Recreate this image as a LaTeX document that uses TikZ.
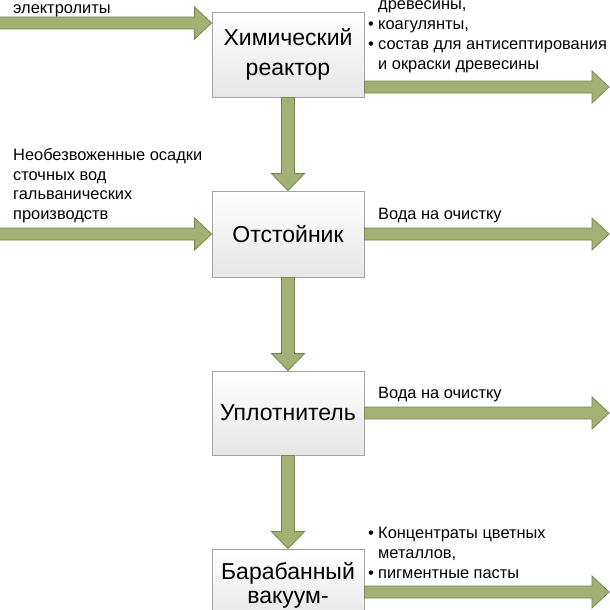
\documentclass[tikz,border=0pt]{standalone}
\usepackage{fontspec}
\setmainfont{Liberation Sans}
\usetikzlibrary{calc,shadows}
\definecolor{arrfill}{RGB}{163,178,116}
\definecolor{arrline}{RGB}{120,134,80}
\definecolor{boxline}{RGB}{165,165,165}
\definecolor{boxbot}{RGB}{230,230,230}
\tikzset{
  procbox/.style={draw=boxline, line width=0.8pt, top color=white, bottom color=boxbot,
    minimum width=152pt, inner sep=0pt, align=center,
    font=\fontsize{23}{29.3}\selectfont,
    drop shadow={shadow xshift=1.2pt, shadow yshift=-1.2pt, opacity=0.25, fill=black}},
  arrbody/.style={fill=arrfill, draw=arrline, line width=0.8pt, line join=miter},
  lbl/.style={anchor=base west, inner sep=0pt, font=\fontsize{16.4}{19.6}\selectfont}
}
\newcommand\rarr[2]{%
  \path[arrbody] let \p1=#1, \p2=#2 in
   (\x1,{\y1+6pt}) -- ({\x2-17pt},{\y1+6pt}) -- ({\x2-17pt},{\y1+16pt}) -- (\x2,\y1)
   -- ({\x2-17pt},{\y1-16pt}) -- ({\x2-17pt},{\y1-6pt}) -- (\x1,{\y1-6pt}) -- cycle;}
\newcommand\darr[2]{%
  \path[arrbody] let \p1=#1, \p2=#2 in
   ({\x1-6.5pt},\y1) -- ({\x1-6.5pt},{\y2+17pt}) -- ({\x1-16.5pt},{\y2+17pt}) -- (\x1,\y2)
   -- ({\x1+16.5pt},{\y2+17pt}) -- ({\x1+6.5pt},{\y2+17pt}) -- ({\x1+6.5pt},\y1) -- cycle;}
\newcommand\bul{\makebox[10pt][l]{•}}
\begin{document}
\begin{tikzpicture}[x=1pt,y=-1pt]
\useasboundingbox (0,0) rectangle (610,610);
\fill[white] (0,0) rectangle (610,610);
% boxes
\node[procbox, minimum height=85pt] (b1) at (288,54.5) {Химический\\реактор};
\node[procbox, minimum height=86pt] (b2) at (288,234) {Отстойник};
\node[procbox, minimum height=84pt] (b3) at (288,413) {Уплотнитель};
\node[procbox, minimum height=73pt, font=\fontsize{23}{23.4}\selectfont] (b4) at (288,585.5) {Барабанный\\вакуум-};
% free ends
\coordinate (in1) at (-5,23);
\coordinate (in2) at (-5,234);
\coordinate (o1) at (609,87);
\coordinate (o2) at (609,234);
\coordinate (o3) at (609,413);
\coordinate (o4) at (609,592);
% arrows
\rarr{(in1)}{(in1 -| b1.west)}
\rarr{(in2)}{(b2.west)}
\rarr{(o1 -| b1.east)}{(o1)}
\rarr{(b2.east)}{(o2)}
\rarr{(b3.east)}{(o3)}
\rarr{(o4 -| b4.east)}{(o4)}
\darr{(b1.south)}{(b2.north)}
\darr{(b2.south)}{(b3.north)}
\darr{(b3.south)}{(b4.north)}
% labels
\node[lbl] (t1) at (13,13.3) {электролиты};
\node[lbl] (t2) at (13,160.7) {Необезвоженные осадки};
\node[lbl] (t3) at (13,180) {сточных вод};
\node[lbl] (t4) at (13,199.3) {гальванических};
\node[lbl] (t5) at (13,219) {производств};
\node[lbl] (r1) at (378,10) {древесины,};
\node[lbl] (r2) at (368,30) {\bul коагулянты,};
\node[lbl] (r3) at (368,50) {\bul состав для антисептирования};
\node[lbl] (r4) at (378,69.5) {и окраски древесины};
\node[lbl] (w2) at (378,219) {Вода на очистку};
\node[lbl] (w3) at (378,398) {Вода на очистку};
\node[lbl] (k1) at (368,538) {\bul Концентраты цветных};
\node[lbl] (k2) at (378,558) {металлов,};
\node[lbl] (k3) at (368,578) {\bul пигментные пасты};
\end{tikzpicture}
\end{document}
